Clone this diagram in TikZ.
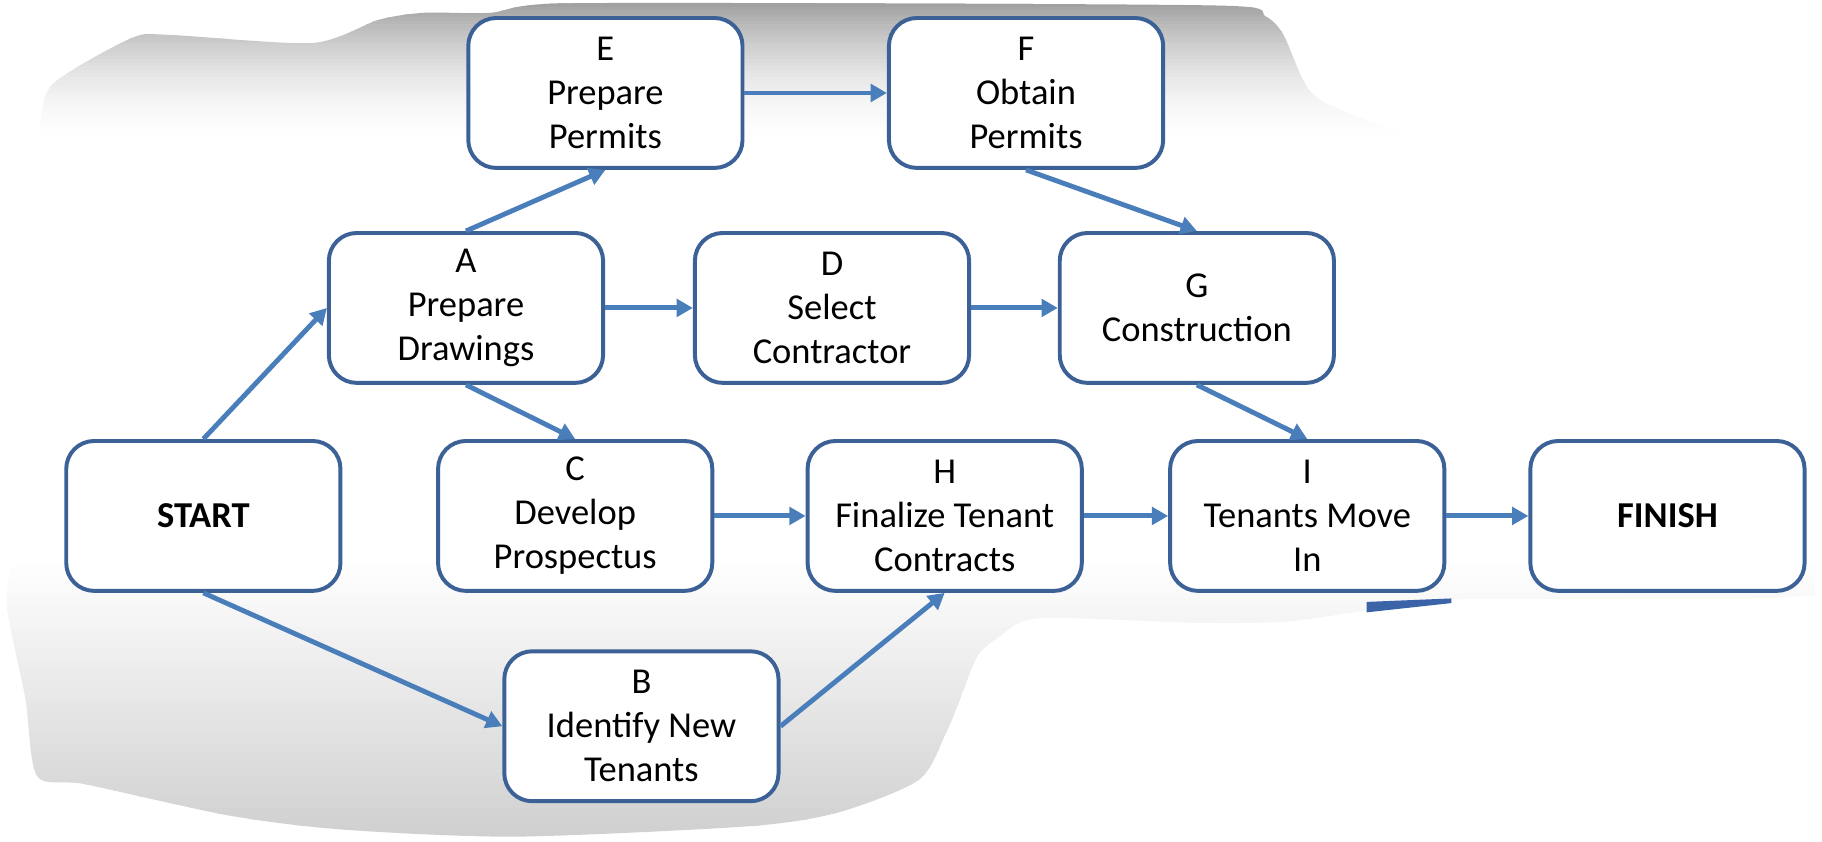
\documentclass[tikz,border=0pt]{standalone}
\usepackage{fontspec}
\setmainfont{Carlito}
\usetikzlibrary{arrows.meta}
\definecolor{arrowblue}{HTML}{4A7EBB}
\definecolor{boxblue}{HTML}{3B6196}
\definecolor{topgray}{HTML}{9C9C9C}
\definecolor{botgray}{HTML}{CFCFCF}
\definecolor{fragblue}{HTML}{3B64A8}
\tikzset{
  taskbox/.style={draw=boxblue, line width=1.7pt, fill=white, rounded corners=12pt,
    minimum width=118pt, minimum height=64.5pt, align=center, inner sep=2pt,
    font=\fontsize{15.7}{19}\selectfont},
  flow/.style={draw=arrowblue, line width=2.1pt, -{Triangle[length=7pt,width=7.5pt]}}
}
\begin{document}
\begin{tikzpicture}[x=0.5pt,y=-0.5pt]
\useasboundingbox (0,0) rectangle (1568,724);
\begin{scope}
\clip plot[smooth cycle, tension=0.45] coordinates {
  (38,86) (58,63) (115,32) (146,30) (269,37) (326,17) (365,11) (422,11) (480,3)
  (760,3) (1057,5) (1089,14) (1104,29) (1120,66) (1132,83) (1160,97) (1300,150)
  (1562,250) (1562,490) (1548,513) (1400,515) (1249,516) (1178,525) (1106,535)
  (1029,536) (894,532) (860,548) (841,565) (825,605) (814,631) (791,671) (722,699)
  (645,711) (444,720) (296,714) (198,702) (74,675) (32,668) (22,602) (10,545)
  (6,510) (20,420) (25,300) (29,172)};
\fill[white] (0,0) rectangle (1568,724);
\foreach \i in {0,3,...,126}{
  \pgfmathtruncatemacro{\p}{100*(1-\i/128)*(1-\i/128)}
  \fill[topgray!\p!white] (0,\i) rectangle (1568,\i+3.5);
}
\foreach \i in {480,485,...,720}{
  \pgfmathtruncatemacro{\p}{(\i-480)/2.4}
  \fill[botgray!\p!white] (0,\i) rectangle (1568,\i+5.5);
}

\node[taskbox] (E) at (521,80) {E\\Prepare\\Permits};
\node[taskbox] (F) at (883,80) {F\\Obtain\\Permits};
\node[taskbox] (A) at (401,265) {A\\Prepare\\Drawings};
\node[taskbox] (D) at (716,265) {D\\Select\\Contractor};
\node[taskbox] (G) at (1030,265) {G\\Construction};
\node[taskbox] (S) at (175,444) {\textbf{START}};
\node[taskbox] (C) at (495,444) {C\\Develop\\Prospectus};
\node[taskbox] (H) at (813,444) {H\\Finalize Tenant\\Contracts};
\node[taskbox] (I) at (1125,444) {I\\Tenants Move\\In};
\node[taskbox] (Fin) at (1435,444) {\textbf{FINISH}};
\node[taskbox] (B) at (552,625) {B\\Identify New\\Tenants};

\draw[flow] (S.north) -- (A.west);
\draw[flow] (A.north) -- (E.south);
\draw[flow] (A.east) -- (D.west);
\draw[flow] (A.south) -- (C.north);
\draw[flow] (E.east) -- (F.west);
\draw[flow] (F.south) -- (G.north);
\draw[flow] (D.east) -- (G.west);
\draw[flow] (G.south) -- (I.north);
\draw[flow] (C.east) -- (H.west);
\draw[flow] (S.south) -- (B.west);
\draw[flow] (B.east) -- (H.south);
\draw[flow] (H.east) -- (I.west);
\draw[flow] (I.east) -- (Fin.west);
\end{scope}
\fill[fragblue] (1176,518) -- (1249,515) -- (1249,519) -- (1176,527) -- cycle;
\end{tikzpicture}
\end{document}
